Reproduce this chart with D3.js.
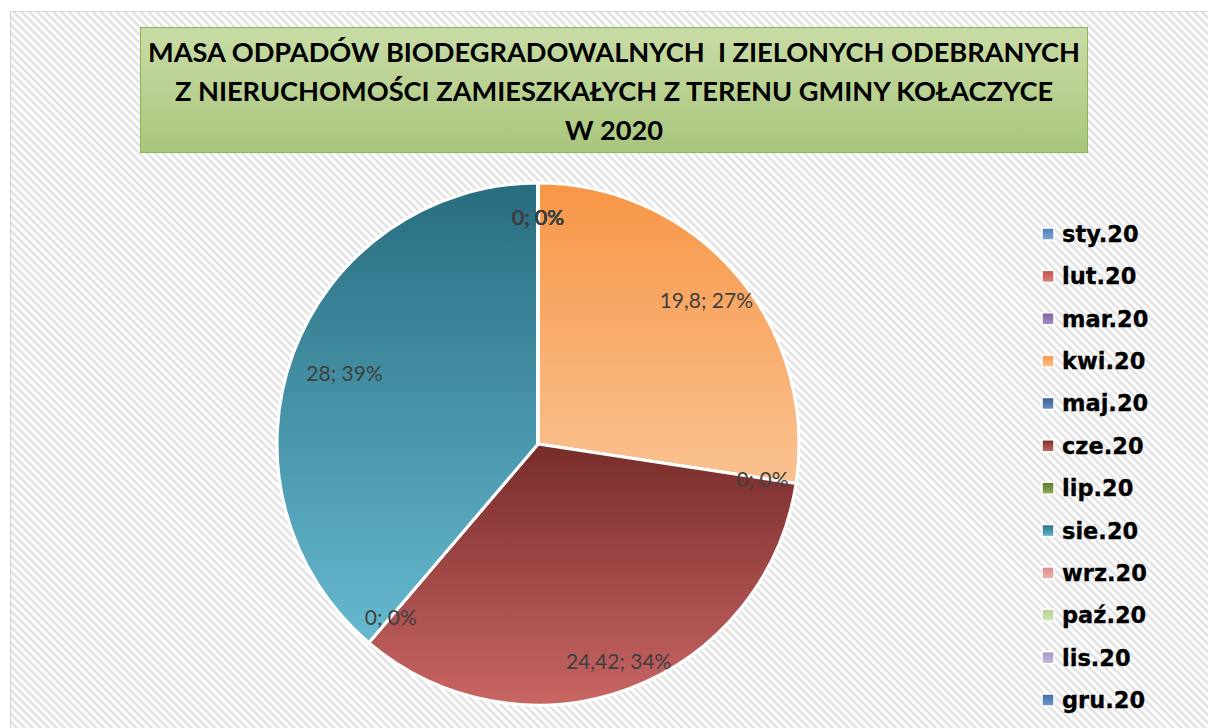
<!DOCTYPE html>
<meta charset="utf-8">
<style>
body { margin: 0; background: #fff; }
svg { display: block; }
.title { font-family: Lato, "Open Sans", sans-serif; font-weight: bold; font-size: 27.2px; fill: #000; white-space: pre; }
.legend text { font-family: "DejaVu Sans", sans-serif; font-weight: bold; font-size: 22.5px; fill: #000; stroke: #000; stroke-width: 0.3; }
.lbl { font-family: Lato, "Open Sans", sans-serif; font-size: 21px; fill: #404040; }
</style>
<svg width="1208" height="728"></svg>
<script src="https://d3js.org/d3.v7.min.js"></script>
<script>

// months and tonnes collected
var months = ["sty.20", "lut.20", "mar.20", "kwi.20", "maj.20", "cze.20",
              "lip.20", "sie.20", "wrz.20", "paź.20", "lis.20", "gru.20"];
var values = [0, 0, 0, 19.8, 0, 24.42, 0, 28, 0, 0, 0, 0];
var valueLabels = ["0", "0", "0", "19,8", "0", "24,42", "0", "28", "0", "0", "0", "0"];
var titleLines = [
  "MASA ODPADÓW BIODEGRADOWALNYCH  I ZIELONYCH ODEBRANYCH",
  "Z NIERUCHOMOŚCI ZAMIESZKAŁYCH Z TERENU GMINY KOŁACZYCE",
  "W 2020"
];

// dark (top) and light (bottom) colour of each slice gradient
var colTop = ["#4a7ebb", "#c0504d", "#7d60a0", "#f79646", "#365f91", "#772c2a",
              "#5e7530", "#286d7f", "#d98a88", "#b9cf8c", "#a593c2", "#3f6ea8"];
var colBot = ["#7fa5d6", "#d9817e", "#a38ec2", "#fac291", "#6a8fbf", "#c96664",
              "#8fae55", "#66b9d0", "#eab2b0", "#d7e4bd", "#c7bbdc", "#7399cc"];

var svg = d3.select("svg");
var defs = svg.append("defs");

// diagonal striped background
var pat = defs.append("pattern")
    .attr("id", "stripes")
    .attr("patternUnits", "userSpaceOnUse")
    .attr("width", 5.6).attr("height", 5.6)
    .attr("patternTransform", "rotate(-45)");
pat.append("rect").attr("width", 5.6).attr("height", 5.6).attr("fill", "#ffffff");
pat.append("rect").attr("width", 2.6).attr("height", 5.6).attr("fill", "#e3e3e3");

svg.append("rect")
    .attr("x", 10.5).attr("y", 11.5)
    .attr("width", 1220).attr("height", 740)
    .attr("fill", "url(#stripes)")
    .attr("stroke", "#d4d4d4");

// title box
var tg = defs.append("linearGradient").attr("id", "titleGrad")
    .attr("x1", 0).attr("y1", 0).attr("x2", 0).attr("y2", 1);
tg.append("stop").attr("offset", "0%").attr("stop-color", "#c9dca6");
tg.append("stop").attr("offset", "100%").attr("stop-color", "#a9c67c");

svg.append("rect")
    .attr("x", 140.5).attr("y", 27.5)
    .attr("width", 947).attr("height", 125)
    .attr("fill", "url(#titleGrad)")
    .attr("stroke", "#8fb456");

svg.append("g").selectAll("text")
    .data(titleLines)
    .enter().append("text")
    .attr("class", "title")
    .attr("x", 614)
    .attr("y", function(d, i) { return 62 + i * 39; })
    .attr("text-anchor", "middle")
    .text(function(d) { return d; });

// slice gradients
months.forEach(function(m, i) {
  var g = defs.append("linearGradient").attr("id", "sg" + i)
      .attr("x1", 0).attr("y1", 0).attr("x2", 0).attr("y2", 1);
  g.append("stop").attr("offset", "0%").attr("stop-color", colTop[i]);
  g.append("stop").attr("offset", "100%").attr("stop-color", colBot[i]);
});

// pie
var cx = 538, cy = 444, r = 261;
var total = d3.sum(values);

var pie = d3.pie().sort(null).value(function(d) { return d; });
var arcs = pie(values);
var arc = d3.arc().innerRadius(0).outerRadius(r);

var gp = svg.append("g").attr("transform", "translate(" + cx + "," + cy + ")");

gp.selectAll("path")
    .data(arcs)
    .enter().append("path")
    .attr("d", arc)
    .attr("fill", function(d, i) { return "url(#sg" + i + ")"; })
    .attr("stroke", "#fff")
    .attr("stroke-width", 3)
    .attr("stroke-linejoin", "round");

// label distance from centre, as a fraction of the radius
var labelDist = { "kwi.20": 0.85, "cze.20": 0.885, "sie.20": 0.79 };

gp.selectAll("text.lbl")
    .data(arcs)
    .enter().append("text")
    .attr("class", "lbl")
    .attr("text-anchor", "middle")
    .attr("dominant-baseline", "central")
    .attr("transform", function(d, i) {
      var a = (d.startAngle + d.endAngle) / 2;
      var rr = r * (labelDist[months[i]] || 0.87);
      return "translate(" + (Math.sin(a) * rr) + "," + (-Math.cos(a) * rr) + ")";
    })
    .text(function(d, i) {
      return valueLabels[i] + "; " + Math.round(values[i] / total * 100) + "%";
    });

// legend
var ly = d3.scalePoint().domain(months).range([234, 700]);
var lg = svg.append("g").attr("class", "legend");
var item = lg.selectAll("g")
    .data(months)
    .enter().append("g")
    .attr("transform", function(d) { return "translate(1042," + ly(d) + ")"; });

item.append("rect")
    .attr("x", 0).attr("y", -6)
    .attr("width", 12).attr("height", 12)
    .attr("fill", function(d, i) { return "url(#sg" + i + ")"; })
    .attr("stroke", "#fff")
    .attr("stroke-width", 1.5);

item.append("text")
    .attr("x", 20)
    .attr("y", 8)
    .text(function(d) { return d; });

</script>
